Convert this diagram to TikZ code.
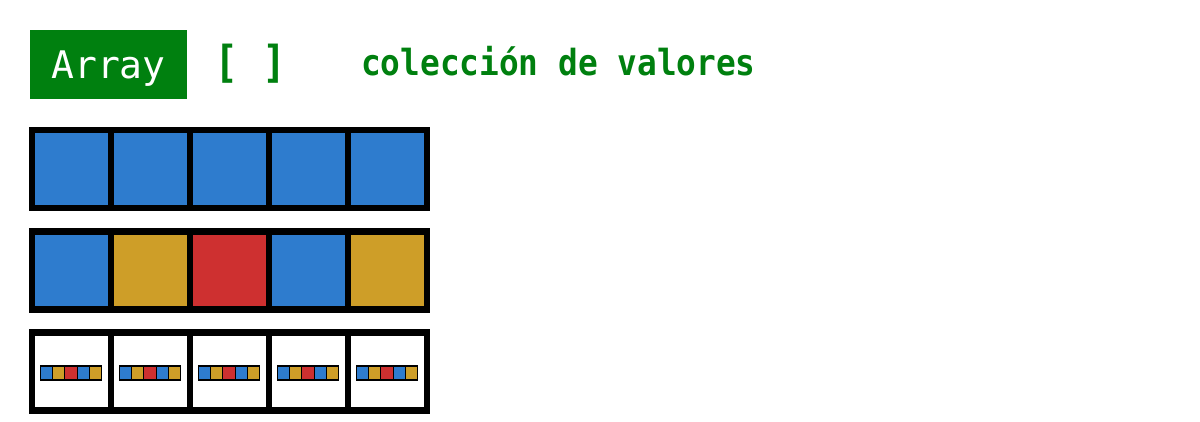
\documentclass[tikz,border=0pt]{standalone}
\usepackage{fontspec}
\newfontfamily\etiqueta{DejaVu Sans Mono}
\newfontfamily\codigo[FakeStretch=0.91]{DejaVu Sans Mono}
\definecolor{verde}{RGB}{0,128,15}
\definecolor{azul}{RGB}{46,124,206}
\definecolor{oro}{RGB}{206,158,40}
\definecolor{rojo}{RGB}{206,48,48}

\tikzset{casilla/.style={draw,line width=6.5pt,fill=#1,inner sep=0pt,
minimum width=79pt,minimum height=78pt},
casilla/.default={white},
mini/.style={draw,line width=1.1pt,fill=#1,inner sep=0pt,
minimum width=12.2pt,minimum height=14pt},
titulo/.style={text=verde,inner sep=0pt,anchor=base west,font=\codigo\bfseries}}

\begin{document}
\begin{tikzpicture}[x=1pt,y=-1pt]
\useasboundingbox (0,0) rectangle (1200,422);
\node [fill=verde,text=white,inner sep=0pt,minimum width=157pt,minimum height=69pt,
	text height=34.5pt,text depth=5.5pt,font=\etiqueta\fontsize{38}{40}\selectfont]
	(array) at (108.5,64.5) {Array};
\node [titulo] (corchetes) at (214,78) {\fontsize{44}{48}\selectfont [ ]};
\node [titulo] (coleccion) at (361,76) {\fontsize{36}{40}\selectfont colección de valores};
% primera fila
\foreach \i in {0,...,4}
	\node [casilla=azul] (fila1-\i) at ({71.5+79*\i},169) {};
% segunda fila
\foreach \c [count=\i from 0] in {azul,oro,rojo,azul,oro}
	\node [casilla=\c] (fila2-\i) at ({71.5+79*\i},270.5) {};
% tercera fila
\foreach \i in {0,...,4}{
	\node [casilla] (fila3-\i) at ({71.5+79*\i},371.5) {};
	\foreach \c [count=\k from 0] in {azul,oro,rojo,azul,oro}
		\node [mini=\c] (mini-\i-\k) at ({71+79*\i+12.2*(\k-2)},373) {};
}
\end{tikzpicture}
\end{document}
